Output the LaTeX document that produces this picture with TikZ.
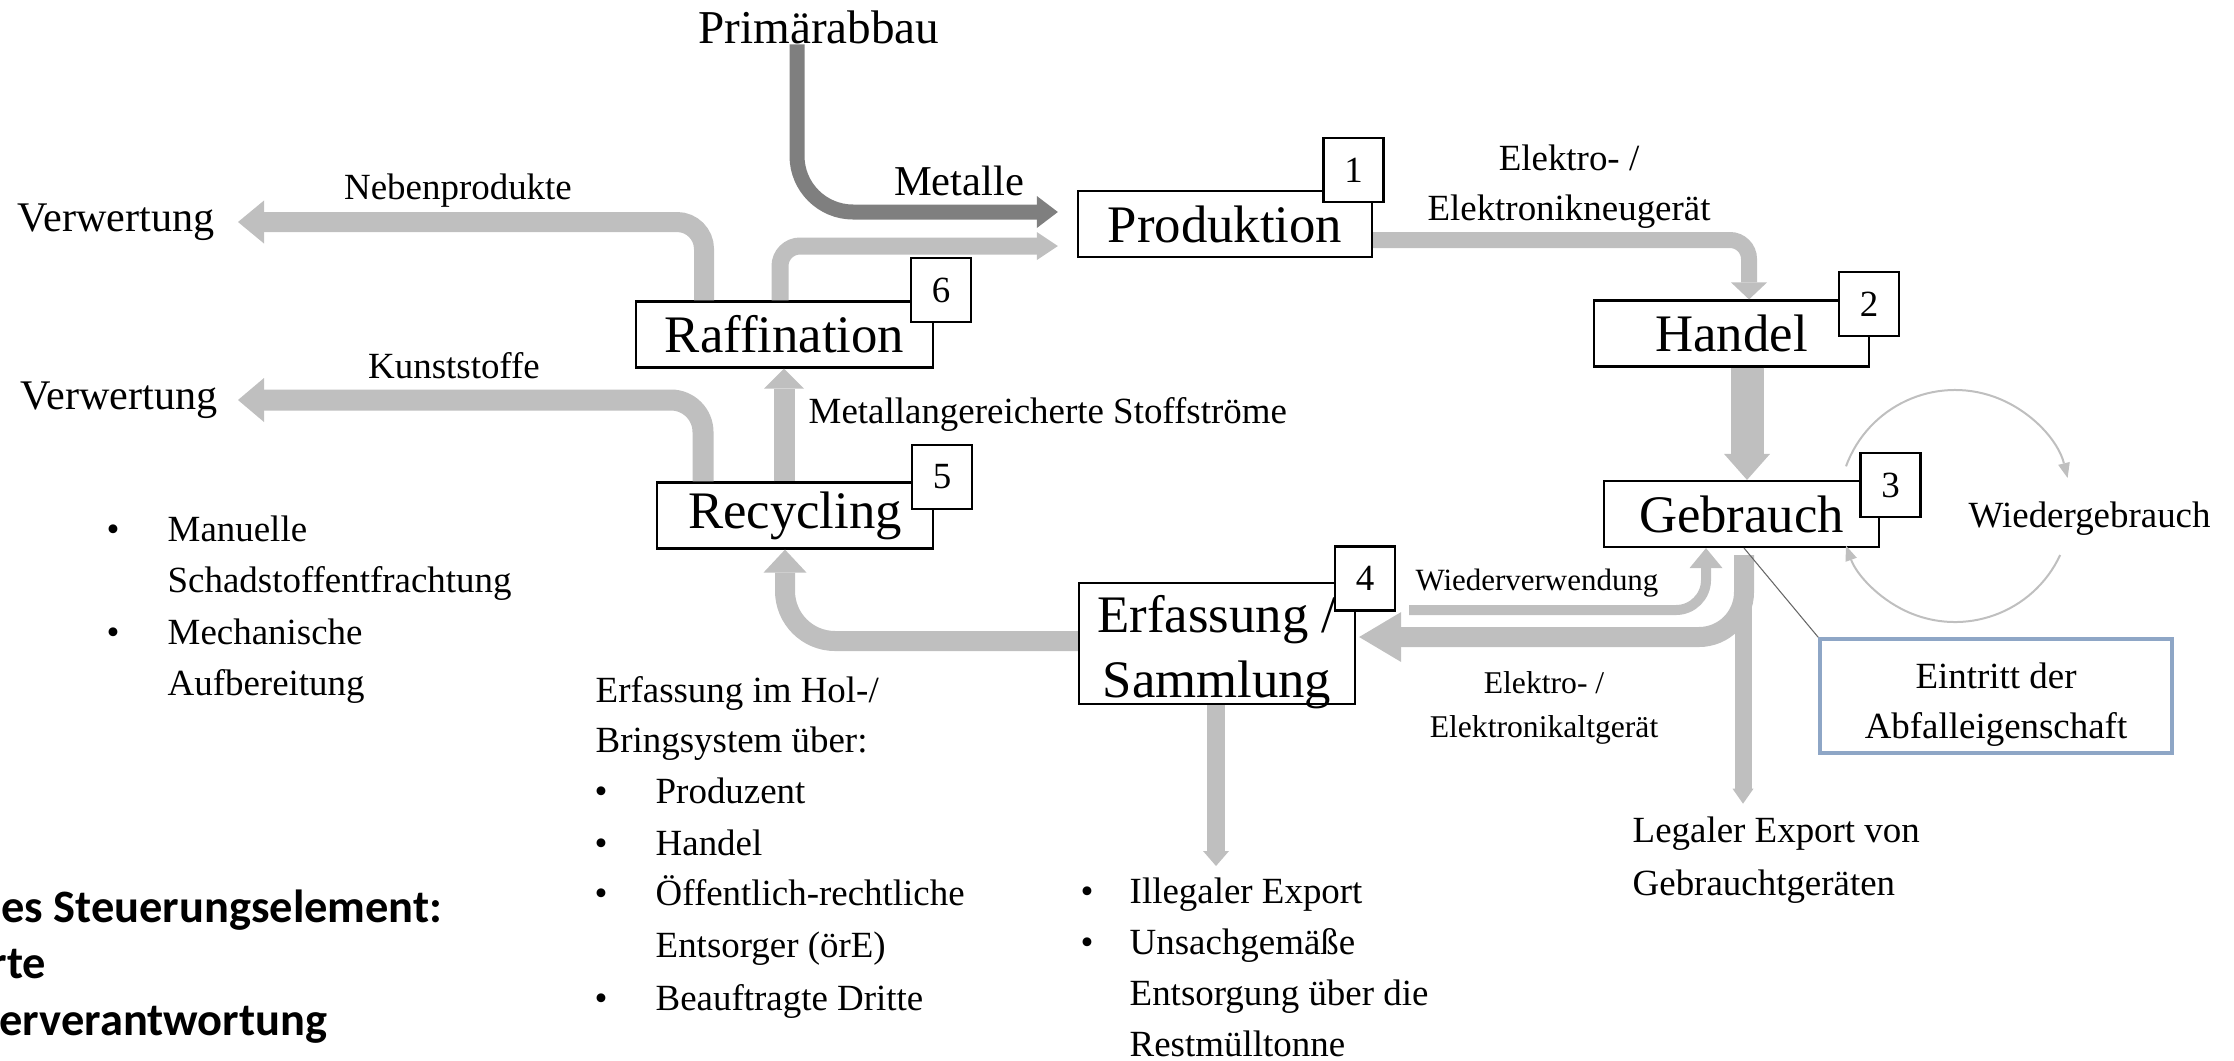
\documentclass[tikz,border=0pt]{standalone}
\usepackage{fontspec}
\setmainfont{Liberation Serif}
\newfontfamily\boldsans{Carlito}
\usetikzlibrary{arrows.meta}

\definecolor{flowgray}{HTML}{BFBFBF}
\definecolor{oregray}{HTML}{7F7F7F}
\definecolor{noteblue}{HTML}{8EA6C6}
\newcommand{\fsz}[1]{\fontsize{#1}{#1}\selectfont}

\begin{document}
\begin{tikzpicture}[x=0.01cm, y=-0.01cm,
    stage/.style={draw, line width=0.6pt, fill=white, minimum height=0.66cm, inner sep=0pt, font=\fsz{15}},
    numbox/.style={draw, line width=0.6pt, fill=white, minimum width=0.6cm, minimum height=0.64cm, inner sep=0pt, font=\fsz{10.5}},
    lbl/.style={inner sep=0pt, font=\fsz{10.5}},
    listline/.style={lbl, anchor=base west},
    flow/.style={draw=flowgray, line width=#1},
    tip/.style 2 args={-{Triangle[width=#1, length=#2, line width=0pt]}},
    boldnote/.style={inner sep=0pt, anchor=base east, font=\boldsans\bfseries\fsz{13.2}}]
    \useasboundingbox (0,0) rectangle (2234,1060);

    % Stationen
    \node[stage, minimum width=2.94cm] (prod) at (1225,224) {Produktion};
    \node[stage, minimum width=2.75cm] (hand) at (1731.5,333.5) {Handel};
    \node[stage, minimum width=2.75cm] (geb) at (1741.5,514) {Gebrauch};
    \node[stage, minimum width=2.76cm, minimum height=1.21cm] (erf) at (1217,643.5) {};
    \node[lbl, align=center, font=\fontsize{15}{18.5}\selectfont] (erftext) at (1217,652) {Erfassung /\\Sammlung};
    \node[stage, minimum width=2.76cm] (rec) at (795,515.5) {Recycling};
    \node[stage, minimum width=2.97cm] (raff) at (784.5,334.5) {Raffination};

    \node[numbox] (n1) at (1353.5,170) {1};
    \node[numbox] (n2) at (1869,304) {2};
    \node[numbox] (n3) at (1890.5,485) {3};
    \node[numbox] (n4) at (1365,578.5) {4};
    \node[numbox] (n5) at (942,477) {5};
    \node[numbox] (n6) at (941,290) {6};

    % Beschriftungen
    \node[inner sep=0pt, font=\fsz{13.4}] (mine) at (819,27) {Primärabbau};
    \node[inner sep=0pt, anchor=base, font=\fsz{12.1}] (metal) at (959,195) {Metalle};
    \node[inner sep=0pt, font=\fsz{12}] (verwA) at (116,222) {Verwertung};
    \node[inner sep=0pt, font=\fsz{12}] (verwB) at (119,400) {Verwertung};
    \node[lbl, anchor=base] (neben) at (458,199) {Nebenprodukte};
    \node[lbl, anchor=base] (kunst) at (454,378) {Kunststoffe};
    \node[listline] (metallang) at (808,423) {Metallangereicherte Stoffströme};
    \node[lbl, anchor=base] (neuA) at (1569,170) {Elektro- /};
    \node[lbl, anchor=base] (neuB) at (1569,220) {Elektronikneugerät};
    \node[lbl, anchor=base, font=\fsz{8.8}] (wiederv) at (1537,590) {Wiederverwendung};
    \node[lbl, anchor=base, font=\fsz{9}] (altA) at (1544,693) {Elektro- /};
    \node[lbl, anchor=base, font=\fsz{9}] (altB) at (1544,737) {Elektronikaltgerät};
    \node[listline] (wiederg) at (1968,527) {Wiedergebrauch};

    \node[draw=noteblue, line width=1pt, minimum width=3.52cm, minimum height=1.14cm] (note) at (1996,696) {};
    \node[lbl, align=center, font=\fontsize{10.5}{14.2}\selectfont] (notetext) at (1996,704.5) {Eintritt der\\Abfalleigenschaft};

    \node[listline] (legA) at (1632,842) {Legaler Export von};
    \node[listline] (legB) at (1632,895) {Gebrauchtgeräten};

    \node[listline] (bulA) at (106,541) {•};
    \node[listline] (aufA) at (167,541) {Manuelle};
    \node[listline] (aufB) at (167,592) {Schadstoffentfrachtung};
    \node[listline] (bulB) at (106,644) {•};
    \node[listline] (aufC) at (167,644) {Mechanische};
    \node[listline] (aufD) at (167,695) {Aufbereitung};

    \node[listline] (holA) at (595,702) {Erfassung im Hol-/};
    \node[listline] (holB) at (595,752) {Bringsystem über:};
    \node[listline] (bulC) at (594,803) {•};
    \node[listline] (holC) at (655,803) {Produzent};
    \node[listline] (bulD) at (594,855) {•};
    \node[listline] (holD) at (655,855) {Handel};
    \node[listline] (bulE) at (594,905) {•};
    \node[listline] (holE) at (655,905) {Öffentlich-rechtliche};
    \node[listline] (holF) at (655,957) {Entsorger (örE)};
    \node[listline] (bulF) at (594,1010) {•};
    \node[listline] (holG) at (655,1010) {Beauftragte Dritte};

    \node[listline] (bulG) at (1080,903) {•};
    \node[listline] (illA) at (1129,903) {Illegaler Export};
    \node[listline] (bulH) at (1080,954) {•};
    \node[listline] (illB) at (1129,954) {Unsachgemäße};
    \node[listline] (illC) at (1129,1005) {Entsorgung über die};
    \node[listline] (illD) at (1129,1056) {Restmülltonne};

    \node[boldnote] (ctrlA) at (443,922) {es Steuerungselement:};
    \node[boldnote] (ctrlB) at (47,978) {rte};
    \node[boldnote] (ctrlC) at (328,1035) {erverantwortung};

    % Stoffstroeme
    \draw[draw=oregray, line width=1.5mm, tip={3.2mm}{2.1mm}, rounded corners=5.6mm, shorten >=1.9mm]
        (797,0 |- mine.south) |- (prod.west |- 0,212);
    \draw[flow=1.7mm, tip={2.8mm}{2.1mm}, rounded corners=2mm, shorten >=1.9mm]
        (780,0 |- raff.north) |- (prod.west |- 0,246);
    \draw[flow=2mm, tip={4.3mm}{2.6mm}, rounded corners=2.7mm]
        (704,0 |- raff.north) |- (238,0 |- verwA.east);
    \draw[flow=2.1mm, tip={4.4mm}{2.6mm}, rounded corners=3.2mm]
        (703,0 |- rec.north) |- (238,0 |- verwB.east);
    \draw[flow=2.1mm, tip={4mm}{2mm}] (784,0 |- rec.north) -- (784,0 |- raff.south);
    \draw[flow=2mm, tip={4.3mm}{2.3mm}, rounded corners=5mm]
        (erf.west |- 0,641) -| (785,0 |- rec.south);
    \draw[flow=1.6mm, tip={3.6mm}{1.7mm}, rounded corners=1.9mm]
        (prod.east |- 0,240) -| (1749,0 |- hand.north);
    \draw[flow=3.3mm, tip={4.6mm}{2.6mm}] (1747,0 |- hand.south) -- (1747,0 |- geb.north);
    \draw[flow=2mm, tip={5mm}{4.2mm}, rounded corners=4.5mm, shorten <=0.7mm, shorten >=0.3mm]
        (1744,0 |- geb.south) |- (erf.east |- 0,637);
    \draw[flow=1.7mm, tip={2.1mm}{1.5mm}, shorten <=0.7mm, shorten >=1.2mm]
        (1743,0 |- geb.south) -- (1743,0 |- legA.north);
    \draw[flow=1mm, tip={3.3mm}{2mm}, rounded corners=3mm, shorten <=5.3mm]
        (erf.east |- 0,610) -| (1706,0 |- geb.south);
    \coordinate (illtip) at (1216,866);
    \draw[flow=1.8mm, tip={2.6mm}{1.5mm}] (1216,0 |- erf.south) -- (illtip);

    % Wiedergebrauch
    \coordinate (loopc) at (1955,506);
    \draw[flow=0.2mm, tip={1.2mm}{1.5mm}] (loopc) ++(-160:116) arc[start angle=-160, end angle=-14, radius=116];
    \draw[flow=0.2mm, tip={1.2mm}{1.5mm}] (loopc) ++(25:116) arc[start angle=25, end angle=160, radius=116];

    \draw[draw=black!60, line width=0.3pt] (1744,0 |- geb.south) -- (note.north west);
\end{tikzpicture}
\end{document}
